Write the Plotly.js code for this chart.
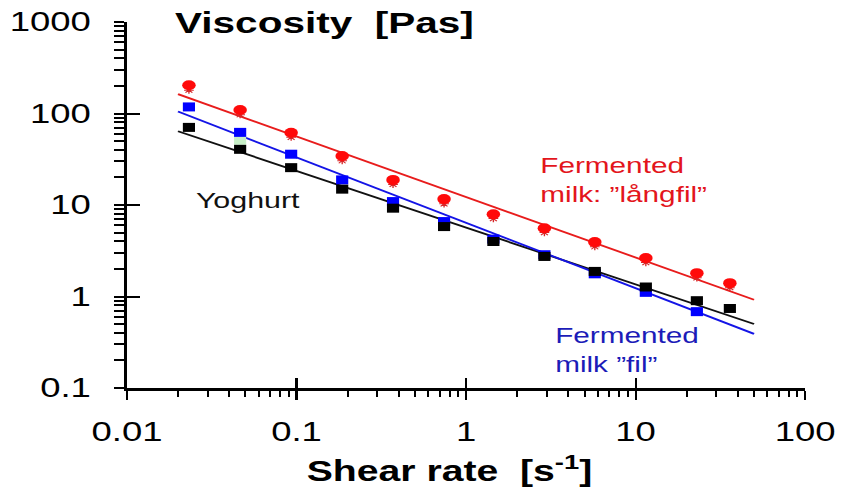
<!DOCTYPE html>
<html>
<head>
<meta charset="utf-8">
<script src="https://cdn.plot.ly/plotly-3.0.1.min.js"></script>
<style>
  html, body { margin: 0; padding: 0; overflow: hidden; background: #fff; }
  #chart { width: 630px; height: 492px; transform: scaleX(1.3508); transform-origin: 0 0; }
</style>
</head>
<body>
<div id="chart"></div>
<script>
// ---- data ----
const shearRate  = [0.0232, 0.0465, 0.093, 0.186, 0.371, 0.742, 1.45, 2.9, 5.75, 11.5, 23, 36];
const langfil    = [204, 109, 61.6, 34.3, 18.8, 11.6, 7.94, 5.58, 3.93, 2.63, 1.80, 1.40];
const langfilRep = [180, 97, 55, 30.5, 16.8, 10.3, 7.1, 5.0, 3.5, 2.35, 1.6, 1.25];
const filShear   = [0.0232, 0.0465, 0.093, 0.186, 0.371, 0.742, 1.45, 2.9, 5.75, 11.5, 23];
const fil        = [118, 62.2, 35.9, 18.8, 10.9, 6.59, 4.24, 2.86, 1.77, 1.11, 0.683];
const yoghurt    = [70.5, 40.6, 25.6, 14.9, 9.23, 5.81, 3.99, 2.74, 1.88, 1.27, 0.90, 0.74];
const extraShear = [0.0465];
const extraVisc  = [51];
const fitShear   = [0.02, 50];
const langfilFit = [163, 0.92];
const filFit     = [105, 0.39];
const yoghurtFit = [64, 0.50];

const xMajor = [0.01, 0.1, 1, 10, 100];
const xMajorText = ['0.01', '0.1', '1', '10', '100'];
const yMajor = [0.1, 1, 10, 100, 1000];
const yMajorText = ['0.1', '1', '10', '100', '1000'];

// minor tick positions (2..9 in each decade)
function minors(lo, hi) {
  const out = [];
  for (let e = lo; e < hi; e++) for (let d = 2; d <= 9; d++) out.push(d * Math.pow(10, e));
  return out;
}

const RED = '#e81c1c', BLUE = '#1414e6', BLACK = '#111111';
const FONT = 'Liberation Sans, Arial, Helvetica, sans-serif';

const traces = [
  {x: fitShear, y: yoghurtFit, mode: 'lines', line: {color: BLACK, width: 1.8}, hoverinfo: 'skip'},
  {x: fitShear, y: filFit, mode: 'lines', line: {color: BLUE, width: 1.8}, hoverinfo: 'skip'},
  {x: fitShear, y: langfilFit, mode: 'lines', line: {color: RED, width: 1.8}, hoverinfo: 'skip'},
  {x: shearRate, y: langfilRep, mode: 'markers', marker: {symbol: 'asterisk-open', size: 6, line: {color: '#6a2a8a', width: 1}}},
  {x: extraShear, y: extraVisc, mode: 'markers', marker: {symbol: 'square', size: 9, color: '#c8f0c8'}},
  {x: filShear, y: fil, mode: 'markers', marker: {symbol: 'square', size: 9, color: '#0000ff'}},
  {x: shearRate, y: yoghurt, mode: 'markers', marker: {symbol: 'square', size: 9, color: '#000000'}},
  {x: shearRate, y: langfil, mode: 'markers', marker: {symbol: 'circle', size: 10, color: '#ff0a0a'}},
  {x: [], y: [], xaxis: 'x2', yaxis: 'y2', mode: 'markers', hoverinfo: 'skip'}
];

const layout = {
  width: 630, height: 492,
  margin: {l: 94, r: 34, t: 21.7, b: 103.6},
  paper_bgcolor: '#ffffff', plot_bgcolor: '#ffffff',
  showlegend: false,
  font: {family: FONT, color: '#000'},
  title: {
    text: 'Viscosity\u00a0 [Pas]',
    font: {family: FONT, size: 30, weight: 'bold', color: '#000'},
    xref: 'container', x: 0.2057, xanchor: 'left',
    yref: 'container', y: 0.955, yanchor: 'middle'
  },
  xaxis: {
    type: 'log', range: [-2, 2], fixedrange: true,
    tickmode: 'array', tickvals: xMajor, ticktext: xMajorText,
    ticks: 'outside', ticklen: 9, tickwidth: 1.5, tickcolor: '#000',
    tickfont: {family: FONT, size: 27, color: '#000'},
    ticklabelstandoff: 9,
    minor: {tickmode: 'array', tickvals: minors(-2, 2), ticks: 'outside', ticklen: 6.5, tickwidth: 1.5, tickcolor: '#000', showgrid: false},
    showline: true, linecolor: '#000', linewidth: 2.5,
    showgrid: false, zeroline: false
  },
  yaxis: {
    type: 'log', range: [-1, 3], fixedrange: true,
    tickmode: 'array', tickvals: yMajor, ticktext: yMajorText,
    ticks: 'outside', ticklen: 7.4, tickwidth: 2, tickcolor: '#000',
    tickfont: {family: FONT, size: 27, color: '#000'},
    ticklabelstandoff: 12,
    minor: {tickmode: 'array', tickvals: minors(-1, 3), ticks: 'outside', ticklen: 7.4, tickwidth: 2, tickcolor: '#000', showgrid: false},
    showline: true, linecolor: '#000', linewidth: 1.9,
    showgrid: false, zeroline: false
  },
  xaxis2: {
    type: 'log', range: [-2, 2], overlaying: 'x', anchor: 'y', side: 'bottom', fixedrange: true,
    tickmode: 'array', tickvals: xMajor, ticktext: xMajorText, ticks: 'inside', ticklen: 10, tickwidth: 1.5, tickcolor: '#000',
    showticklabels: false, showline: false, showgrid: false, zeroline: false
  },
  yaxis2: {
    type: 'log', range: [-1, 3], overlaying: 'y', anchor: 'x', side: 'left', fixedrange: true,
    tickmode: 'array', tickvals: yMajor, ticktext: yMajorText, ticks: 'inside', ticklen: 9.6, tickwidth: 2, tickcolor: '#000',
    showticklabels: false, showline: false, showgrid: false, zeroline: false
  },
  annotations: [
    {text: 'Shear rate\u00a0 [s<sup>-1</sup>]', xref: 'paper', yref: 'paper', x: 0.476, y: -0.2225,
     xanchor: 'center', yanchor: 'middle', showarrow: false,
     font: {family: FONT, size: 29, weight: 'bold', color: '#000'}},
    {text: 'Yoghurt', xref: 'paper', yref: 'paper', x: 0.097, y: 0.511,
     xanchor: 'left', yanchor: 'middle', showarrow: false,
     font: {family: FONT, size: 22.5, color: '#111'}},
    {text: 'Fermented<br>milk: \u201dl\u00e5ngfil\u201d', xref: 'paper', yref: 'paper', x: 0.605, y: 0.568,
     xanchor: 'left', yanchor: 'middle', align: 'left', showarrow: false,
     font: {family: FONT, size: 22, color: '#e3151c'}},
    {text: 'Fermented<br>milk \u201dfil\u201d', xref: 'paper', yref: 'paper', x: 0.627, y: 0.1047,
     xanchor: 'left', yanchor: 'middle', align: 'left', showarrow: false,
     font: {family: FONT, size: 22, color: '#1c1cb8'}}
  ]
};

Plotly.newPlot('chart', traces, layout, {displayModeBar: false, staticPlot: true});
</script>
</body>
</html>
